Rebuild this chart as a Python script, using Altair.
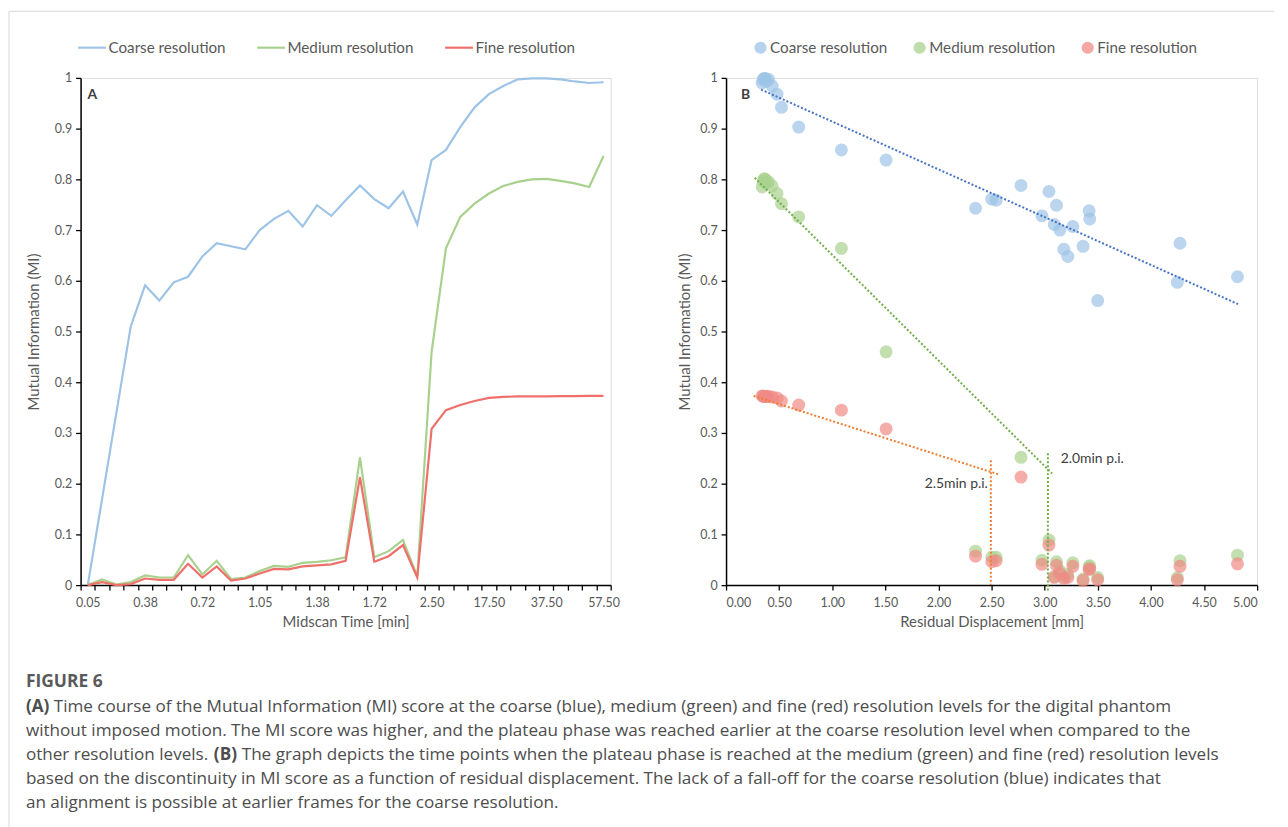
import altair as alt
import pandas as pd

# ---------------- data ----------------
time_labels = ["0.05", "0.13", "0.22", "0.30", "0.38", "0.47", "0.55", "0.63", "0.72", "0.80",
               "0.88", "0.97", "1.05", "1.13", "1.22", "1.30", "1.38", "1.47", "1.55", "1.63",
               "1.72", "1.80", "1.88", "1.97", "2.50", "5.00", "7.50", "12.50", "17.50", "22.50",
               "27.50", "32.50", "37.50", "42.50", "47.50", "52.50", "57.50"]
shown_time_labels = ["0.05", "0.38", "0.72", "1.05", "1.38", "1.72", "2.50", "17.50", "37.50", "57.50"]

coarse_mi = [0.0, 0.17, 0.34, 0.51, 0.591, 0.561, 0.597, 0.608, 0.648, 0.674,
             0.668, 0.662, 0.700, 0.722, 0.738, 0.707, 0.749, 0.728, 0.759, 0.788,
             0.761, 0.743, 0.776, 0.711, 0.838, 0.858, 0.903, 0.942, 0.968, 0.984,
             0.997, 0.999, 0.999, 0.997, 0.993, 0.990, 0.9915]
medium_mi = [0.0, 0.011, 0.001, 0.006, 0.019, 0.015, 0.015, 0.059, 0.021, 0.048,
             0.012, 0.015, 0.028, 0.038, 0.036, 0.044, 0.046, 0.049, 0.055, 0.252,
             0.055, 0.067, 0.089, 0.017, 0.460, 0.664, 0.726, 0.752, 0.772, 0.787,
             0.795, 0.800, 0.801, 0.797, 0.792, 0.785, 0.846]
fine_mi = [0.0, 0.006, 0.0, 0.002, 0.013, 0.0105, 0.0105, 0.042, 0.015, 0.037,
           0.009, 0.013, 0.023, 0.032, 0.031, 0.037, 0.039, 0.041, 0.048, 0.213,
           0.046, 0.057, 0.079, 0.015, 0.308, 0.345, 0.355, 0.363, 0.369, 0.371,
           0.372, 0.372, 0.372, 0.3725, 0.3725, 0.373, 0.373]
# residual displacement per time point (None = not shown in panel B)
displacement = [None, None, None, None, None, 3.499, 4.249, 4.815, 3.218, 4.274,
                3.361, 3.180, 3.143, 3.424, 3.418, 3.265, 3.111, 2.974, 2.543, 2.777,
                2.502, 2.349, 3.040, 3.090, 1.507, 1.086, 0.684, 0.522, 0.480, 0.434,
                0.400, 0.370, 0.360, 0.350, 0.380, 0.340, None]

series_names = ["Coarse resolution", "Medium resolution", "Fine resolution"]
line_colors = ["#9DC3E6", "#A9D18E", "#EF706B"]
point_colors = ["#9DC3E6", "#A9D18E", "#F08A84"]

# trend lines of panel B (start / end points)
trend_names = ["coarse", "coarse", "medium", "medium", "fine", "fine"]
trend_x = [0.33, 4.82, 0.27, 3.07, 0.26, 2.57]
trend_y = [0.977, 0.554, 0.803, 0.220, 0.373, 0.218]
trend_colors = ["#4472C4", "#4472C4", "#70AD47", "#70AD47", "#ED7D31", "#ED7D31"]

# vertical markers of panel B
marker_x = [2.493, 3.030]
marker_top = [0.246, 0.260]
marker_bottom = [0.0, -0.012]
marker_colors = ["#ED7D31", "#70AD47"]

annot_text = ["2.0min p.i.", "2.5min p.i."]
annot_x = [3.15, 2.465]
annot_y = [0.249, 0.200]
annot_align = ["left", "right"]

caption_segments = [
    # (line, x offset, text, bold)
    (0, 0, "FIGURE 6", True),
    (1, 0, "(A)", True),
    (1, 28, "Time course of the Mutual Information (MI) score at the coarse (blue), medium (green) and fine (red) resolution levels for the digital phantom", False),
    (2, 0, "without imposed motion. The MI score was higher, and the plateau phase was reached earlier at the coarse resolution level when compared to the", False),
    (3, 0, "other resolution levels.", False),
    (3, 189, "(B)", True),
    (3, 217, "The graph depicts the time points when the plateau phase is reached at the medium (green) and fine (red) resolution levels", False),
    (4, 0, "based on the discontinuity in MI score as a function of residual displacement. The lack of a fall-off for the coarse resolution (blue) indicates that", False),
    (5, 0, "an alignment is possible at earlier frames for the coarse resolution.", False),
]

# ---------------- tables ----------------
rows = []
for i, t in enumerate(time_labels):
    for name, vals in zip(series_names, [coarse_mi, medium_mi, fine_mi]):
        rows.append({"time": t, "idx": i, "series": name, "mi": vals[i], "disp": displacement[i]})
df = pd.DataFrame(rows)
df_scatter = df[df["disp"].notna()].copy()

trend_df = pd.DataFrame({"name": trend_names, "x": trend_x, "y": trend_y, "color": trend_colors})
marker_df = pd.DataFrame({"x": marker_x, "y": marker_top, "y2": marker_bottom, "color": marker_colors})
annot_df = pd.DataFrame({"text": annot_text, "x": annot_x, "y": annot_y, "align": annot_align})

FONT = "Lato"
CAP_FONT = "Open Sans"
GRAY = "#595959"

W, H = 533, 510

axis_common = dict(domainColor="#000000", domainWidth=1.5, tickColor="#000000", tickWidth=1.3,
                   tickSize=5, labelColor=GRAY, labelFontSize=12.5, labelFont=FONT,
                   titleColor=GRAY, titleFontSize=15, titleFont=FONT, titleFontWeight="normal",
                   grid=False)

# ---------------- panel A ----------------
x_time = alt.X("time:N", sort=time_labels, bandPosition=0.5,
               scale=alt.Scale(type="band", paddingInner=0, paddingOuter=0),
               axis=alt.Axis(title="Midscan Time [min]", tickBand="extent", labelAngle=0,
                             labelExpr="indexof(" + str(shown_time_labels) + ", datum.label) >= 0 ? datum.label : ''",
                             labelPadding=6, titlePadding=6, **axis_common))
y_mi_a = alt.Y("mi:Q", scale=alt.Scale(domain=[0, 1], nice=False),
               axis=alt.Axis(title="Mutual Information (MI)", values=[i / 10 for i in range(11)],
                             format=".1~f", titlePadding=13, labelPadding=4, **axis_common))

color_lines = alt.Color("series:N", scale=alt.Scale(domain=series_names, range=line_colors),
                        legend=alt.Legend(orient="none", legendX=-4, legendY=-46, direction="horizontal",
                                          title=None, symbolType="stroke", symbolSize=780,
                                          symbolStrokeWidth=2.2, labelFont=FONT, labelFontSize=15.3,
                                          labelColor=GRAY, labelOffset=1, columnPadding=27, padding=0))

line_layers = []
for name in series_names:
    line_layers.append(
        alt.Chart(df).transform_filter(alt.datum.series == name)
        .mark_line(strokeWidth=2.2)
        .encode(x=x_time, y=y_mi_a, color=color_lines, order=alt.Order("idx:Q"))
    )

label_a = alt.Chart(pd.DataFrame({"t": ["A"]})).mark_text(
    font=FONT, fontSize=14, fontWeight="bold", color="#404040", align="left", baseline="middle"
).encode(x=alt.value(7), y=alt.value(17), text="t:N")

# thin frame lines of the figure (top and left edge)
frame = alt.Chart(pd.DataFrame({"k": [0]})).mark_rule(color="#d9d9d9", strokeWidth=1).encode(
    x=alt.value(-72), y=alt.value(-67), y2=alt.value(760)
)
frame_top = alt.Chart(pd.DataFrame({"k": [0]})).mark_rule(color="#d9d9d9", strokeWidth=1).encode(
    x=alt.value(-72), x2=alt.value(1200), y=alt.value(-67)
)

cap_df = pd.DataFrame([
    {"text": s[2], "bold": "bold" if s[3] else "normal", "line": s[0], "off": s[1]}
    for s in caption_segments
])
cap_base_x = -55
cap_y0 = 607
cap_dy = 24
caption_layers = []
for _, r in cap_df.iterrows():
    caption_layers.append(
        alt.Chart(pd.DataFrame({"t": [r["text"]]})).mark_text(
            font=CAP_FONT, fontSize=17.5 if r["line"] == 0 else 17.2,
            fontWeight=r["bold"], color="#4d4d4d" if r["line"] else "#5a5a5a",
            align="left", baseline="middle"
        ).encode(x=alt.value(cap_base_x + int(r["off"])),
                 y=alt.value(cap_y0 + (r["line"] * cap_dy + (2 if r["line"] else 0))),
                 text="t:N")
    )

panel_a = alt.layer(*line_layers, label_a, frame, frame_top, *caption_layers).properties(width=W, height=H)

# ---------------- panel B ----------------
x_disp = alt.X("disp:Q", scale=alt.Scale(domain=[0, 5], nice=False),
               axis=alt.Axis(title="Residual Displacement [mm]", values=[i / 2 for i in range(11)],
                             format=".2f", labelPadding=6, titlePadding=6, **axis_common))
y_mi_b = alt.Y("mi:Q", scale=alt.Scale(domain=[0, 1], nice=False),
               axis=alt.Axis(title="Mutual Information (MI)", values=[i / 10 for i in range(11)],
                             format=".1~f", titlePadding=7, labelPadding=4, **axis_common))

points = alt.Chart(df_scatter).mark_circle(size=170, opacity=0.7).encode(
    x=x_disp, y=y_mi_b,
    color=alt.Color("series:N", scale=alt.Scale(domain=series_names, range=point_colors),
                    legend=alt.Legend(orient="none", legendX=27, legendY=-38, direction="horizontal",
                                      title=None, symbolType="circle", symbolSize=150,
                                      symbolOpacity=0.75, labelFont=FONT, labelFontSize=15.3,
                                      labelColor=GRAY, labelOffset=2, columnPadding=24, padding=0)),
    order=alt.Order("order_key:Q")
).transform_calculate(
    order_key="indexof(" + str(series_names) + ", datum.series)"
)

trend = alt.Chart(trend_df).mark_line(strokeDash=[2, 2], strokeWidth=2).encode(
    x=alt.X("x:Q", scale=alt.Scale(domain=[0, 5], nice=False)),
    y=alt.Y("y:Q", scale=alt.Scale(domain=[0, 1], nice=False)),
    detail="name:N",
    stroke=alt.Stroke("color:N", scale=None),
)

markers = alt.Chart(marker_df).mark_rule(strokeDash=[2, 2], strokeWidth=2).encode(
    x="x:Q", y="y:Q", y2="y2:Q", stroke=alt.Stroke("color:N", scale=None)
)

annots_l = alt.Chart(annot_df[annot_df["align"] == "left"]).mark_text(
    font=FONT, fontSize=14, color="#404040", align="left", baseline="middle"
).encode(x="x:Q", y="y:Q", text="text:N")
annots_r = alt.Chart(annot_df[annot_df["align"] == "right"]).mark_text(
    font=FONT, fontSize=14, color="#404040", align="right", baseline="middle"
).encode(x="x:Q", y="y:Q", text="text:N")

label_b = alt.Chart(pd.DataFrame({"t": ["B"]})).mark_text(
    font=FONT, fontSize=14, fontWeight="bold", color="#404040", align="left", baseline="middle"
).encode(x=alt.value(15), y=alt.value(17), text="t:N")

panel_b = alt.layer(points, trend, markers, annots_l, annots_r, label_b).properties(width=534, height=H)

chart = alt.hconcat(panel_a, panel_b, spacing=116, bounds="flush").resolve_scale(
    color="independent"
).resolve_legend(color="independent").properties(
    padding={"left": 0, "top": 0, "right": 5, "bottom": 5}
).configure_view(stroke=None).configure(font=FONT)

chart.save("out.html", embed_options={"renderer": "svg", "actions": False})
